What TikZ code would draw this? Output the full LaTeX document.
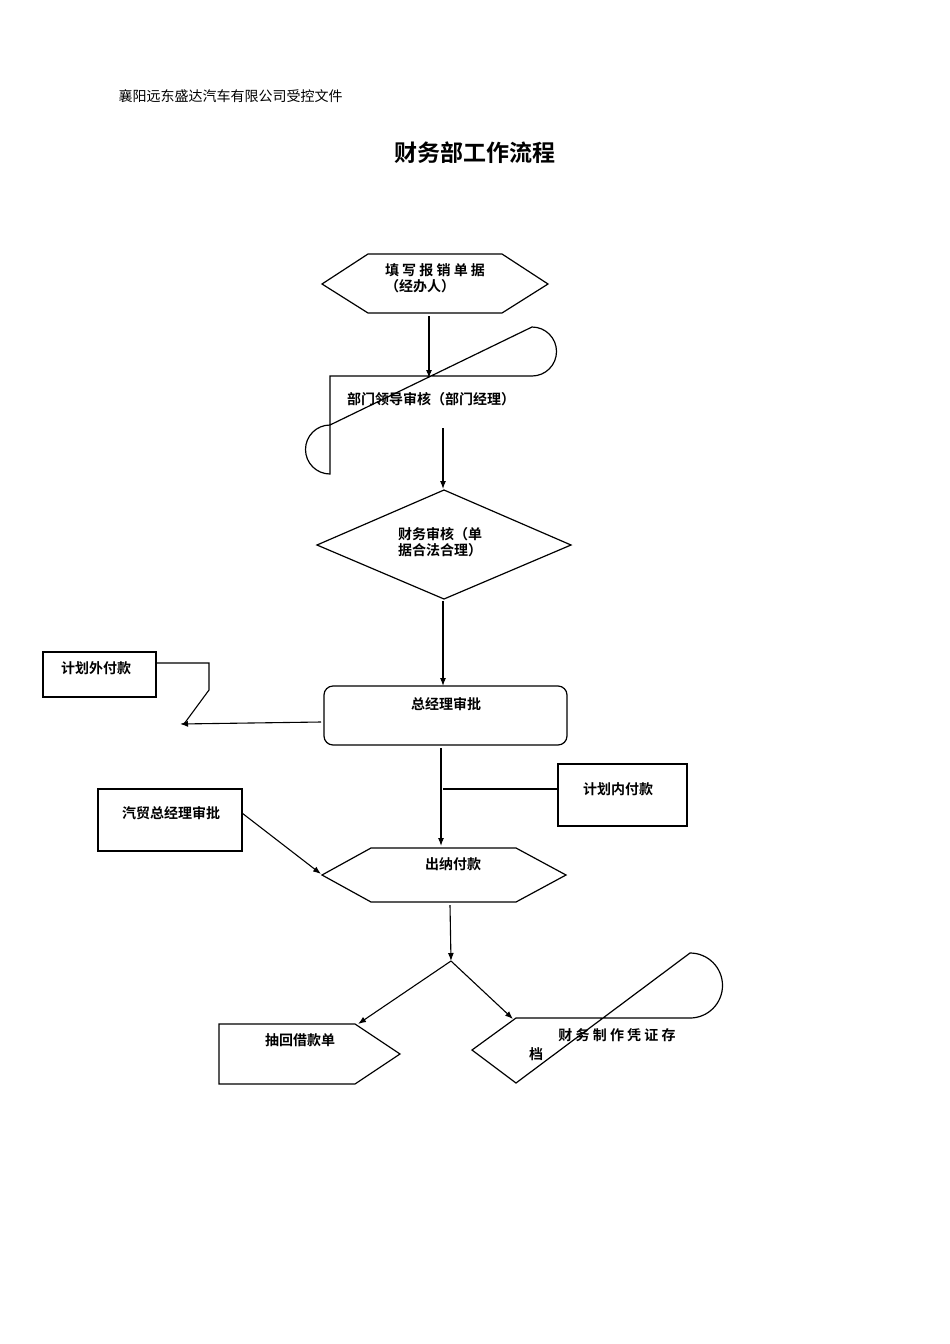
\documentclass[tikz,border=0pt]{standalone}
\usepackage{fontspec}
\newfontfamily\cjk{Noto Sans CJK SC}
\newfontfamily\cjkb{Noto Sans CJK SC Bold}
\usetikzlibrary{arrows.meta}
\begin{document}
\begin{tikzpicture}[x=1pt,y=-1pt,
  shp/.style={draw,line width=1.2pt,line join=miter},
  lbl/.style={font=\cjkb\fontsize{14}{16}\selectfont,inner sep=0pt,align=left},
  conn/.style={draw,line width=1.1pt,-{Latex[length=8pt,width=6pt]}},
  lin/.style={draw,line width=1.1pt}]
\useasboundingbox (0,0) rectangle (950,1344);
\node[font=\cjk\fontsize{14}{16}\selectfont,anchor=west] (hdr) at (115,96) {襄阳远东盛达汽车有限公司受控文件};
\node[font=\cjkb\fontsize{23}{26}\selectfont] (title) at (475,153) {财务部工作流程};
% shapes
\draw[shp] (322,284)--(368,254)--(502,254)--(548,284)--(502,313)--(368,313)--cycle;
\node[lbl] (n1) at (435,278) {填 写 报 销 单 据\\ （经办人）};
\draw[shp] (330,376) -- (532,376) arc[start angle=90,end angle=-90,radius=24.5] -- (330,425) arc[start angle=270,end angle=90,radius=24.5] -- cycle;
\node[lbl] (n2) at (431,399) {部门领导审核（部门经理）};
\draw[shp] (317,545)--(444,490)--(571,545)--(444,599)--cycle;
\node[lbl] (n3) at (440,542) {财务审核（单\\据合法合理）};
\draw[shp] (43,652) rectangle (156,697);
\node[lbl] (n4) at (96,668) {计划外付款};
\draw[shp,rounded corners=9pt] (324,686) rectangle (567,745);
\node[lbl] (n5) at (446,704) {总经理审批};
\draw[shp] (558,764) rectangle (687,826);
\node[lbl] (n6) at (618,789) {计划内付款};
\draw[shp] (98,789) rectangle (242,851);
\node[lbl] (n7) at (171,813) {汽贸总经理审批};
\draw[shp] (322,875)--(371,848)--(516,848)--(566,875)--(516,902)--(371,902)--cycle;
\node[lbl] (n8) at (453,864) {出纳付款};
\draw[shp] (219,1024)--(355,1024)--(400,1054)--(355,1084)--(219,1084)--cycle;
\node[lbl] (n9) at (300,1040) {抽回借款单};
\draw[shp] (472,1050)--(516,1018)--(690,1018) arc[start angle=90,end angle=-90,radius=32.5] -- (516,1083) -- cycle;
\node[lbl] (n10a) at (617,1035) {财 务 制 作 凭 证 存};
\node[lbl] (n10b) at (536,1054) {档};
% connectors
\coordinate (a1) at (429,316); \coordinate (a2) at (429,378);
\draw[conn] (a1)--(a2);
\coordinate (b1) at (443,428); \coordinate (b2) at (443,489);
\draw[conn] (b1)--(b2);
\coordinate (c1) at (443,601); \coordinate (c2) at (443,686);
\draw[conn] (c1)--(c2);
\coordinate (d1) at (156,663); \coordinate (d2) at (209,663); \coordinate (d3) at (209,690); \coordinate (d4) at (184,724);
\draw[lin] (d1)--(d2)--(d3)--(d4);
\coordinate (e1) at (321,722); \coordinate (e2) at (180,724);
\draw[conn] (e1)--(e2);
\coordinate (f1) at (441,748); \coordinate (f2) at (441,846);
\draw[conn] (f1)--(f2);
\coordinate (g1) at (558,789); \coordinate (g2) at (443,789);
\draw[lin] (g1)--(g2);
\coordinate (h1) at (242,813); \coordinate (h2) at (321,874);
\draw[conn] (h1)--(h2);
\coordinate (i1) at (450,905); \coordinate (i2) at (451,961);
\draw[conn] (i1)--(i2);
\coordinate (j1) at (358,1024); \coordinate (j2) at (513,1019);
\draw[conn] (i2)--(j1);
\draw[conn] (i2)--(j2);
\end{tikzpicture}
\end{document}
